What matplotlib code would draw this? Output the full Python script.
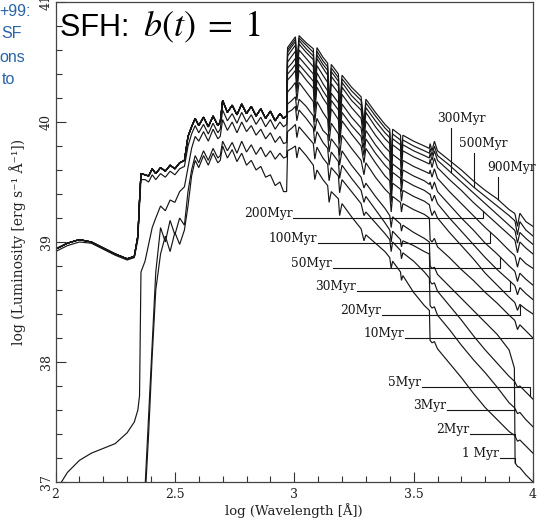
import numpy as np
import matplotlib
matplotlib.use("Agg")
import matplotlib.pyplot as plt
from matplotlib.ticker import MultipleLocator

plt.rcParams['mathtext.fontset'] = 'stix'

# log wavelength grid shortward of the Lyman break
wl_euv = [2.00, 2.05, 2.10, 2.15, 2.20, 2.25, 2.30, 2.33, 2.345, 2.352, 2.358,
          2.375, 2.39, 2.405, 2.42, 2.44, 2.46, 2.48, 2.50, 2.52, 2.54, 2.555,
          2.57, 2.585, 2.60, 2.62, 2.64, 2.66, 2.68, 2.69, 2.70, 2.72, 2.74,
          2.76, 2.78, 2.80, 2.82, 2.84, 2.86, 2.88, 2.90, 2.92, 2.94, 2.955, 2.968]

# ionizing part, ages >= 10 Myr all sit on the same curve
euv_old = [38.94, 38.99, 39.02, 39.00, 38.95, 38.90, 38.86, 38.88, 39.05, 39.35, 39.57,
           39.56, 39.55, 39.61, 39.57, 39.62, 39.59, 39.64, 39.61, 39.66, 39.68, 39.88,
           39.96, 40.03, 39.97, 40.04, 39.96, 40.05, 39.97, 40.00, 40.18, 40.08, 40.14,
           40.06, 40.15, 40.07, 40.13, 40.05, 40.11, 40.03, 40.09, 40.01, 40.07, 40.03, 40.05]
euv_5 = [38.92, 38.97, 39.00, 38.99, 38.94, 38.89, 38.85, 38.87, 39.02, 39.30, 39.52,
         39.52, 39.50, 39.56, 39.52, 39.57, 39.54, 39.59, 39.56, 39.61, 39.63, 39.80,
         39.90, 39.97, 39.91, 39.98, 39.90, 39.99, 39.91, 39.94, 40.10, 40.01, 40.07,
         39.99, 40.08, 40.00, 40.06, 39.98, 40.04, 39.96, 40.02, 39.94, 40.00, 39.96, 39.98]
euv_3 = [36.5, 36.5, 36.5, 36.5, 36.5, 36.5, 36.5, 36.5, 36.5, 36.5, 36.5,
         36.95, 37.55, 38.15, 38.75, 39.12, 39.00, 39.18, 39.06, 39.20, 39.14, 39.42,
         39.60, 39.72, 39.66, 39.76, 39.68, 39.78, 39.70, 39.72, 39.84, 39.76, 39.83,
         39.74, 39.84, 39.75, 39.81, 39.73, 39.79, 39.71, 39.76, 39.69, 39.74, 39.70, 39.71]
euv_2 = [36.5, 36.5, 36.5, 36.5, 36.5, 36.5, 36.5, 36.5, 36.5, 36.5, 36.5,
         36.85, 37.40, 38.05, 38.60, 38.90, 39.05, 38.92, 39.08, 38.98, 39.10, 39.30,
         39.55, 39.68, 39.62, 39.72, 39.64, 39.74, 39.66, 39.68, 39.80, 39.70, 39.77,
         39.67, 39.74, 39.64, 39.68, 39.60, 39.63, 39.54, 39.56, 39.47, 39.50, 39.42, 39.42]
euv_1 = [36.92, 37.08, 37.18, 37.24, 37.28, 37.32, 37.41, 37.50, 37.60, 37.72, 38.75,
         38.84, 38.98, 39.12, 39.20, 39.30, 39.26, 39.35, 39.33, 39.42, 39.46, 39.62,
         39.78, 39.88, 39.84, 39.92, 39.84, 39.94, 39.86, 39.88, 40.02, 39.93, 40.00,
         39.91, 40.00, 39.92, 39.97, 39.89, 39.94, 39.86, 39.91, 39.83, 39.88, 39.82, 39.83]

# log wavelength grid from the Lyman break to 1 micron
wl_uv = [2.972, 2.99, 3.005, 3.011, 3.02, 3.05, 3.08, 3.086, 3.095, 3.12, 3.14, 3.146,
         3.155, 3.185, 3.19, 3.20, 3.24, 3.28, 3.292, 3.30, 3.34, 3.38, 3.40, 3.406,
         3.412, 3.445, 3.449, 3.455, 3.50, 3.545, 3.566, 3.569, 3.577, 3.587, 3.60, 3.65,
         3.70, 3.75, 3.80, 3.85, 3.90, 3.922, 3.925, 3.935, 3.945, 3.97, 4.00]

uv_900 = [40.62, 40.67, 40.71, 40.45, 40.72, 40.66, 40.61, 40.30, 40.62, 40.54, 40.49, 40.12,
          40.48, 40.40, 40.08, 40.39, 40.29, 40.21, 39.99, 40.19, 40.08, 39.98, 39.94, 39.67,
          39.94, 39.89, 39.73, 39.89, 39.84, 39.80, 39.78, 39.82, 39.76, 39.84, 39.76, 39.68,
          39.60, 39.51, 39.43, 39.36, 39.27, 39.24, 39.23, 39.13, 39.24, 39.17, 39.13]
uv_500 = [40.60, 40.65, 40.69, 40.44, 40.70, 40.64, 40.58, 40.28, 40.59, 40.51, 40.46, 40.10,
          40.45, 40.37, 40.06, 40.36, 40.26, 40.18, 39.96, 40.16, 40.05, 39.95, 39.91, 39.65,
          39.90, 39.85, 39.70, 39.85, 39.80, 39.76, 39.74, 39.78, 39.72, 39.80, 39.72, 39.64,
          39.55, 39.46, 39.38, 39.30, 39.22, 39.18, 39.17, 39.06, 39.17, 39.10, 39.05]
uv_300 = [40.58, 40.63, 40.67, 40.43, 40.68, 40.61, 40.55, 40.26, 40.56, 40.48, 40.43, 40.09,
          40.42, 40.34, 40.04, 40.33, 40.22, 40.14, 39.93, 40.12, 40.01, 39.91, 39.87, 39.62,
          39.86, 39.81, 39.67, 39.81, 39.76, 39.72, 39.70, 39.74, 39.68, 39.76, 39.68, 39.59,
          39.50, 39.41, 39.32, 39.23, 39.14, 39.10, 39.09, 38.99, 39.08, 39.03, 38.98]
uv_200 = [40.55, 40.60, 40.64, 40.41, 40.65, 40.58, 40.52, 40.24, 40.53, 40.45, 40.39, 40.07,
          40.38, 40.30, 40.02, 40.29, 40.18, 40.10, 39.90, 40.08, 39.96, 39.86, 39.82, 39.58,
          39.81, 39.76, 39.62, 39.76, 39.71, 39.67, 39.65, 39.69, 39.62, 39.70, 39.62, 39.52,
          39.43, 39.33, 39.24, 39.15, 39.06, 39.02, 39.01, 38.91, 39.00, 38.95, 38.90]
uv_100 = [40.50, 40.55, 40.59, 40.37, 40.60, 40.53, 40.46, 40.20, 40.47, 40.39, 40.33, 40.03,
          40.32, 40.24, 39.97, 40.23, 40.12, 40.03, 39.84, 40.01, 39.89, 39.79, 39.75, 39.52,
          39.73, 39.68, 39.55, 39.68, 39.63, 39.59, 39.57, 39.60, 39.54, 39.61, 39.53, 39.42,
          39.32, 39.22, 39.12, 39.03, 38.93, 38.89, 38.88, 38.79, 38.87, 38.82, 38.78]
uv_50 = [40.45, 40.49, 40.53, 40.33, 40.54, 40.47, 40.40, 40.16, 40.41, 40.32, 40.26, 39.99,
         40.24, 40.16, 39.91, 40.15, 40.04, 39.95, 39.78, 39.93, 39.81, 39.71, 39.67, 39.46,
         39.65, 39.60, 39.48, 39.60, 39.55, 39.51, 39.48, 39.50, 39.44, 39.50, 39.42, 39.31,
         39.20, 39.10, 38.99, 38.90, 38.80, 38.76, 38.75, 38.67, 38.74, 38.69, 38.64]
uv_30 = [40.40, 40.44, 40.48, 40.29, 40.48, 40.41, 40.34, 40.12, 40.35, 40.26, 40.20, 39.95,
         40.18, 40.10, 39.87, 40.08, 39.97, 39.88, 39.72, 39.86, 39.74, 39.64, 39.60, 39.40,
         39.58, 39.53, 39.42, 39.52, 39.47, 39.43, 39.40, 39.40, 39.34, 39.39, 39.32, 39.20,
         39.09, 38.98, 38.87, 38.77, 38.68, 38.64, 38.63, 38.56, 38.62, 38.57, 38.52]
uv_20 = [40.35, 40.39, 40.43, 40.25, 40.43, 40.35, 40.28, 40.08, 40.29, 40.20, 40.14, 39.92,
         40.11, 40.02, 39.82, 40.01, 39.90, 39.80, 39.66, 39.78, 39.66, 39.55, 39.51, 39.33,
         39.49, 39.44, 39.34, 39.43, 39.38, 39.34, 39.31, 39.28, 39.22, 39.26, 39.20, 39.08,
         38.97, 38.86, 38.74, 38.64, 38.54, 38.50, 38.49, 38.43, 38.48, 38.44, 38.40]
uv_10 = [40.25, 40.29, 40.33, 40.18, 40.33, 40.25, 40.17, 40.00, 40.17, 40.08, 40.02, 39.84,
         39.99, 39.90, 39.72, 39.89, 39.78, 39.68, 39.56, 39.66, 39.54, 39.44, 39.40, 39.25,
         39.38, 39.33, 39.25, 39.32, 39.27, 39.23, 39.20, 39.02, 39.00, 39.03, 38.96, 38.87,
         38.77, 38.68, 38.58, 38.49, 38.39, 38.35, 38.34, 38.27, 38.31, 38.26, 38.20]
uv_5 = [40.08, 40.10, 40.13, 40.01, 40.10, 40.03, 39.95, 39.82, 39.92, 39.83, 39.78, 39.64,
        39.75, 39.67, 39.53, 39.64, 39.53, 39.43, 39.33, 39.38, 39.27, 39.16, 39.10, 39.00,
        39.09, 39.02, 38.96, 39.01, 38.97, 38.92, 38.90, 38.67, 38.65, 38.66, 38.59, 38.47,
        38.35, 38.22, 38.10, 37.99, 37.88, 37.84, 37.83, 37.79, 37.80, 37.75, 37.69]
uv_3 = [39.92, 39.95, 39.98, 39.87, 39.96, 39.89, 39.82, 39.69, 39.79, 39.70, 39.65, 39.51,
        39.62, 39.55, 39.41, 39.52, 39.42, 39.32, 39.22, 39.25, 39.16, 39.07, 39.02, 38.92,
        39.00, 38.93, 38.86, 38.91, 38.84, 38.75, 38.70, 38.47, 38.45, 38.46, 38.39, 38.27,
        38.14, 38.02, 37.91, 37.79, 37.66, 37.62, 37.61, 37.57, 37.58, 37.52, 37.46]
uv_2 = [39.76, 39.78, 39.80, 39.70, 39.79, 39.72, 39.64, 39.52, 39.60, 39.52, 39.47, 39.33,
        39.42, 39.36, 39.22, 39.32, 39.21, 39.11, 39.01, 39.06, 38.99, 38.92, 38.87, 38.78,
        38.84, 38.75, 38.68, 38.72, 38.58, 38.47, 38.43, 38.18, 38.16, 38.17, 38.11, 37.99,
        37.87, 37.74, 37.62, 37.52, 37.42, 37.39, 37.38, 37.34, 37.35, 37.30, 37.24]
uv_1 = [40.15, 40.18, 40.21, 40.09, 40.19, 40.13, 40.05, 39.92, 40.03, 39.93, 39.89, 39.75,
        39.86, 39.78, 39.64, 39.76, 39.64, 39.54, 39.45, 39.49, 39.38, 39.28, 39.22, 39.12,
        39.21, 39.15, 39.09, 39.14, 39.08, 39.03, 39.00, 38.80, 38.78, 38.79, 38.73, 38.63,
        38.53, 38.43, 38.33, 38.23, 38.10, 37.95, 37.16, 37.13, 37.12, 37.06, 37.00]

ages = [1, 2, 3, 5, 10, 20, 30, 50, 100, 200, 300, 500, 900]
euv_by_age = [euv_1, euv_2, euv_3, euv_5] + [euv_old] * 9
uv_by_age = [uv_1, uv_2, uv_3, uv_5, uv_10, uv_20, uv_30, uv_50,
             uv_100, uv_200, uv_300, uv_500, uv_900]

# labels with a horizontal leader: text right end, leader height, leader end
hlab_text = ['200Myr', '100Myr', '50Myr', '30Myr', '20Myr', '10Myr',
             '5Myr', '3Myr', '2Myr', '1 Myr']
hlab_age = [200, 100, 50, 30, 20, 10, 5, 3, 2, 1]
hlab_x = [2.995, 3.10, 3.162, 3.263, 3.368, 3.464, 3.535, 3.64, 3.736, 3.862]
hlab_y = [39.20, 38.99, 38.78, 38.59, 38.39, 38.20, 37.79, 37.60, 37.40, 37.20]
hlab_end = [3.79, 3.82, 3.862, 3.904, 3.946, 4.0, 3.987, 3.925, 3.925, 3.925]

# labels with a vertical leader dropping onto the curve
vlab_text = ['300Myr', '500Myr', '900Myr']
vlab_age = [300, 500, 900]
vlab_x = [3.698, 3.793, 3.91]
vlab_y = [40.033, 39.825, 39.625]
vlead_x = [3.656, 3.753, 3.853]
vlead_top = [39.95, 39.74, 39.54]

W, H = 540, 523
fig = plt.figure(figsize=(W / 100, H / 100), dpi=100)
ax = fig.add_axes([55.5 / W, 41 / H, 477.5 / W, 480 / H])

ink = '#161616'
curves = {}
for age, euv, uv in zip(ages, euv_by_age, uv_by_age):
    assert len(euv) == len(wl_euv) and len(uv) == len(wl_uv), age
    x = np.array(wl_euv + wl_uv)
    y = np.array(euv + uv)
    curves[age] = (x, y)
    ax.plot(x, y, color=ink, lw=0.85, solid_joinstyle='miter')

serif = 'DejaVu Serif'
for txt, age, lx, ly, ex in zip(hlab_text, hlab_age, hlab_x, hlab_y, hlab_end):
    ax.text(lx - 0.003, ly + 0.01, txt, ha='right', va='baseline',
            fontsize=8.8, family=serif, color=ink)
    cx, cy = curves[age]
    yc = np.interp(ex, cx, cy)
    ax.plot([lx, ex, ex], [ly, ly, yc], color=ink, lw=0.8, clip_on=False)

for txt, age, lx, ly, vx, vt in zip(vlab_text, vlab_age, vlab_x, vlab_y, vlead_x, vlead_top):
    ax.text(lx, ly, txt, ha='center', va='center', fontsize=8.8, family=serif,
            color=ink, clip_on=False)
    cx, cy = curves[age]
    ax.plot([vx, vx], [vt, np.interp(vx, cx, cy)], color=ink, lw=0.8)

ax.set_xlim(2, 4)
ax.set_ylim(37, 41)
ax.xaxis.set_major_locator(MultipleLocator(0.5))
ax.xaxis.set_minor_locator(MultipleLocator(0.1))
ax.yaxis.set_major_locator(MultipleLocator(1))
ax.yaxis.set_minor_locator(MultipleLocator(0.2))
ax.set_xticks([2, 2.5, 3, 3.5, 4])
ax.set_xticklabels(['2', '2.5', '3', '3.5', '4'])
ax.tick_params(which='both', direction='in', top=False, right=False,
               color='#333333', width=0.8)
ax.tick_params(which='major', length=7)
ax.tick_params(which='minor', length=4)
ax.tick_params(axis='x', pad=4)
ax.tick_params(axis='y', pad=2)
for lab in ax.get_xticklabels() + ax.get_yticklabels():
    lab.set_family(serif)
    lab.set_fontsize(9)
    lab.set_color('#222222')
for lab in ax.get_yticklabels():
    lab.set_rotation(90)
    lab.set_va('center')
for sp in ax.spines.values():
    sp.set_color('#444444')
    sp.set_linewidth(0.9)

ax.set_xlabel('log (Wavelength [Å])', family=serif, fontsize=9.5,
              color='#222222', labelpad=2)
ax.set_ylabel('log (Luminosity [erg s⁻¹ Å⁻¹])', family=serif, fontsize=10,
              color='#222222', labelpad=10)

# panel title sitting over the plot
fig.text(60 / W, 1 - 36 / H, 'SFH: ', ha='left', va='baseline', fontsize=22,
         family='Liberation Sans', color='black')
fig.text(143 / W, 1 - 36 / H, r'$b(t)\;=\;1$', ha='left', va='baseline',
         fontsize=26, color='black')

# side notes running off the left edge
blue = '#2a64a8'
for txt, xr, yc in zip(['+99:', 'SF', 'ons', 'to'], [31, 22, 25, 15], [11, 34, 57, 80]):
    fig.text(xr / W, 1 - yc / H, txt, ha='right', va='center', fontsize=11.5,
             family='Liberation Sans', color=blue)

fig.savefig('out.png', dpi=100)
